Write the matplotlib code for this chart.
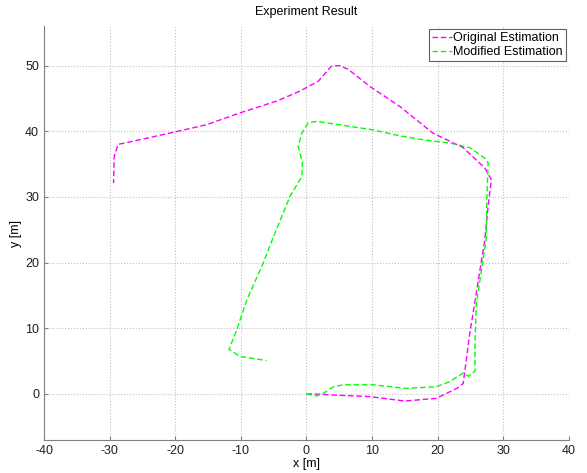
import matplotlib
matplotlib.use('Agg')
import matplotlib.pyplot as plt

plt.rcParams['font.family'] = ['Liberation Sans', 'DejaVu Sans']
plt.rcParams['axes.unicode_minus'] = False

# Original Estimation trajectory (magenta)
orig_x = [0.0, 1.3, 5.0, 9.7, 15.0, 19.8, 21.9, 23.0, 23.9, 24.9, 26.0, 27.2, 27.7, 28.2,
          27.2, 23.9, 19.3, 14.2, 9.7, 6.4, 5.1, 3.8, 1.8, -1.0, -4.5, -10.1, -15.2,
          -20.0, -25.4, -28.7, -29.3, -29.4]
orig_y = [0.0, 0.0, -0.2, -0.4, -1.07, -0.66, 0.35, 0.9, 1.6, 9.2, 16.0, 23.5, 28.6, 32.6,
          34.4, 37.5, 39.7, 43.8, 46.8, 49.4, 50.0, 49.9, 47.6, 46.1, 44.6, 42.8, 41.0,
          39.9, 38.7, 38.0, 36.2, 32.1]

# Modified Estimation trajectory (green)
mod_x = [0.0, 1.55, 2.6, 4.1, 5.6, 10.2, 15.0, 19.8, 21.9, 23.9, 24.7, 25.7, 25.7, 25.9,
         27.4, 27.5, 27.7, 27.2, 24.9, 21.9, 17.8, 14.2, 10.2, 1.55, 0.3, -0.7, -1.25,
         -0.6, -0.7, -2.5, -5.2, -6.6, -9.1, -10.6, -11.8, -10.1, -8.1, -6.1]
mod_y = [0.0, -0.3, 0.1, 1.1, 1.4, 1.4, 0.86, 1.1, 1.9, 3.2, 2.7, 3.5, 8.0, 13.8,
         23.5, 29.6, 35.2, 35.9, 37.5, 38.2, 38.7, 39.3, 40.2, 41.5, 41.3, 39.7, 37.7,
         35.2, 33.1, 30.1, 23.5, 19.9, 14.3, 9.8, 6.8, 5.7, 5.4, 5.1]

fig = plt.figure(figsize=(5.87, 4.73), dpi=100)
ax = fig.add_axes([0.075, 0.0698, 0.894, 0.875])

ax.plot(orig_x, orig_y, '--', color='#ff00ff', lw=1.0, dashes=(4, 2), label='Original Estimation')
ax.plot(mod_x, mod_y, '--', color='#00ff00', lw=1.0, dashes=(4, 2), label='Modified Estimation')

ax.set_xlim(-40, 40)
ax.set_ylim(-7, 56)
ax.set_xticks(range(-40, 41, 10))
ax.set_yticks(range(0, 51, 10))
ax.grid(True, linestyle=':', color='#c0c0c0', lw=0.8)
ax.spines['top'].set_visible(False)
ax.spines['right'].set_visible(False)
ax.spines['left'].set_color('#808080')
ax.spines['bottom'].set_color('#808080')
ax.tick_params(direction='in', length=3, labelsize=9, colors='#808080', labelcolor='#202020')

ax.set_title('Experiment Result', fontsize=9, pad=8)
ax.set_xlabel('x [m]', fontsize=9, labelpad=1)
ax.set_ylabel('y [m]', fontsize=9, labelpad=2)

leg = ax.legend(loc='upper right', fontsize=9, handlelength=1.6, handletextpad=0.1,
                borderaxespad=0.25, borderpad=0.25, labelspacing=0.15, fancybox=False,
                framealpha=1)
leg.get_frame().set_edgecolor('#606060')
leg.get_frame().set_linewidth(0.8)

fig.savefig('out.png', dpi=100)
